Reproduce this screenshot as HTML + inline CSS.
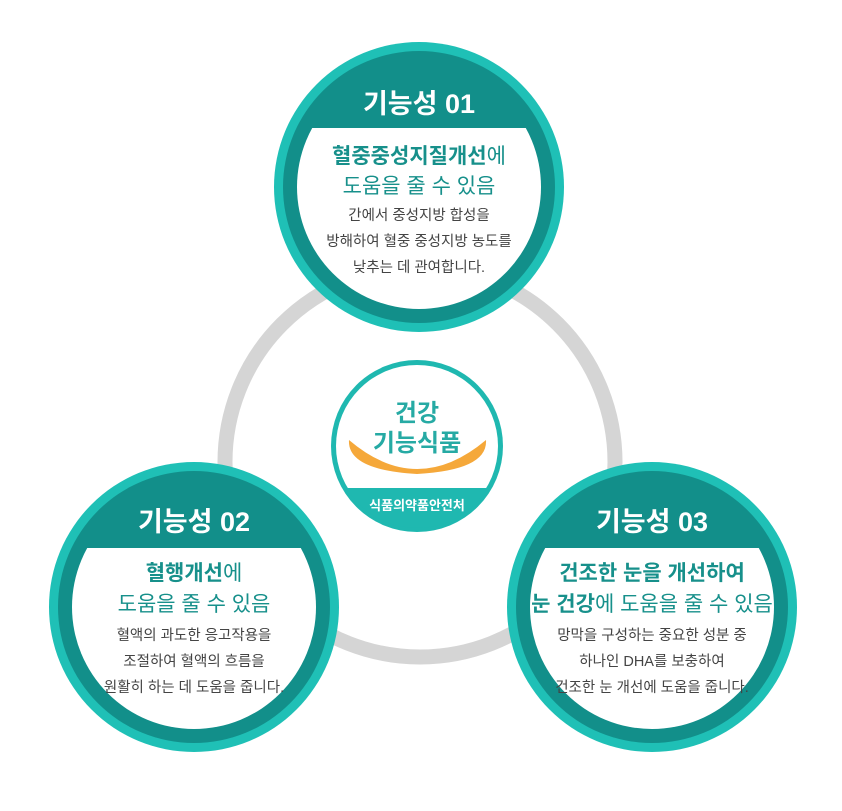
<!DOCTYPE html>
<html><head><meta charset="utf-8"><style>
html,body{margin:0;padding:0;background:#fff;}
svg{display:block;font-family:"Liberation Sans","Noto Sans CJK KR",sans-serif;}
.h{fill:#fff;font-size:27px;font-weight:bold;text-anchor:middle;}
.t{fill:#17908b;font-size:21px;text-anchor:middle;}
.tb{font-weight:bold;}
.b{fill:#444;font-size:14.5px;text-anchor:middle;}
</style></head><body>
<svg width="842" height="811" viewBox="0 0 842 811" xmlns="http://www.w3.org/2000/svg">
<defs>
<clipPath id="c1"><rect x="0" y="128" width="842" height="400"/></clipPath>
<clipPath id="c2"><rect x="0" y="548" width="842" height="300"/></clipPath>
<clipPath id="cb"><circle cx="417" cy="446" r="82"/></clipPath>
</defs>
<circle cx="420" cy="462" r="195" fill="none" stroke="#d5d5d5" stroke-width="15"/>

<!-- top -->
<circle cx="419" cy="187" r="145" fill="#1fc0b6"/>
<circle cx="419" cy="187" r="136" fill="#128f8a"/>
<circle cx="419" cy="187" r="122" fill="#fff" clip-path="url(#c1)"/>
<text class="h" x="419" y="113">기능성 01</text>
<text class="t" x="419" y="163"><tspan class="tb">혈중중성지질개선</tspan>에</text>
<text class="t" x="419" y="193">도움을 줄 수 있음</text>
<text class="b" x="419" y="220">간에서 중성지방 합성을</text>
<text class="b" x="419" y="246">방해하여 혈중 중성지방 농도를</text>
<text class="b" x="419" y="272">낮추는 데 관여합니다.</text>

<!-- left -->
<circle cx="194" cy="607" r="145" fill="#1fc0b6"/>
<circle cx="194" cy="607" r="136" fill="#128f8a"/>
<circle cx="194" cy="607" r="122" fill="#fff" clip-path="url(#c2)"/>
<text class="h" x="194" y="531">기능성 02</text>
<text class="t" x="194" y="580"><tspan class="tb">혈행개선</tspan>에</text>
<text class="t" x="194" y="611">도움을 줄 수 있음</text>
<text class="b" x="194" y="640">혈액의 과도한 응고작용을</text>
<text class="b" x="194" y="666">조절하여 혈액의 흐름을</text>
<text class="b" x="194" y="692">원활히 하는 데 도움을 줍니다.</text>

<!-- right -->
<circle cx="652" cy="607" r="145" fill="#1fc0b6"/>
<circle cx="652" cy="607" r="136" fill="#128f8a"/>
<circle cx="652" cy="607" r="122" fill="#fff" clip-path="url(#c2)"/>
<text class="h" x="652" y="531">기능성 03</text>
<text class="t tb" x="652" y="580">건조한 눈을 개선하여</text>
<text class="t" x="652" y="611"><tspan class="tb">눈 건강</tspan>에 도움을 줄 수 있음</text>
<text class="b" x="652" y="640">망막을 구성하는 중요한 성분 중</text>
<text class="b" x="652" y="666">하나인 DHA를 보충하여</text>
<text class="b" x="652" y="692">건조한 눈 개선에 도움을 줍니다.</text>

<!-- center badge -->
<circle cx="417" cy="446" r="86" fill="#1fb8b0"/>
<circle cx="417" cy="446" r="81" fill="#fff"/>
<rect x="320" y="488" width="200" height="60" fill="#1fb8b0" clip-path="url(#cb)"/>
<path d="M349 440 Q417 498 486 440 Q488 470 417 474 Q347 470 349 440 Z" fill="#f5a83a"/>
<text x="417" y="421" fill="#26aaa4" font-size="24" font-weight="bold" text-anchor="middle">건강</text>
<text x="417" y="451" fill="#26aaa4" font-size="24" font-weight="bold" text-anchor="middle">기능식품</text>
<text x="417" y="510" fill="#fff" font-size="13" font-weight="bold" text-anchor="middle">식품의약품안전처</text>
</svg>
</body></html>
